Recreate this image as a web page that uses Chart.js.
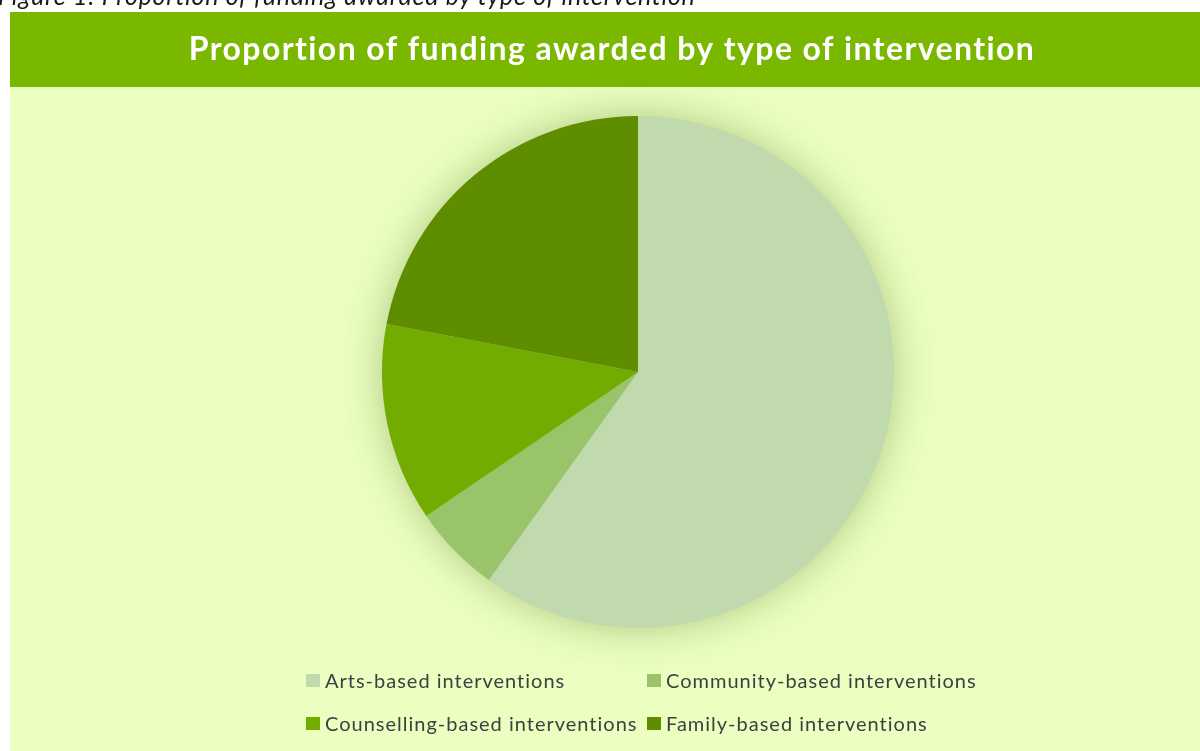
<!DOCTYPE html>
<html>
<head>
<meta charset="utf-8">
<script src="https://cdn.jsdelivr.net/npm/chart.js@4/dist/chart.umd.min.js"></script>
<style>
  html, body { margin: 0; padding: 0; background: #ffffff; overflow: hidden; }
  #wrap { position: relative; width: 1200px; height: 751px; }
  #chart { position: absolute; left: 0; top: 0; }
  #caption {
    position: absolute; left: -2px; top: -17px; white-space: nowrap;
    font-family: Lato, "Noto Sans", sans-serif; font-style: italic;
    font-size: 25px; line-height: 25px; letter-spacing: 0.7px; color: #1a1a1a;
  }
</style>
</head>
<body>
<div id="wrap">
  <canvas id="chart" width="1200" height="751"></canvas>
  <div id="caption">Figure 1: Proportion of funding awarded by type of intervention</div>
</div>
<script>
// Share of funding (%) by intervention type
const categories = [
  'Arts-based interventions',
  'Community-based interventions',
  'Counselling-based interventions',
  'Family-based interventions'
];
const shares = [59.9, 5.6, 12.5, 22.0];
const sliceColors = ['#C0D9AD', '#99C46A', '#72AC00', '#5E8E00'];
const chartTitle = 'Proportion of funding awarded by type of intervention';

const PANEL = { left: 10, top: 12 };
const BAND_H = 75;
const FONT = 'Lato, "Noto Sans", sans-serif';

// Panel background, title band and title text
const panelPlugin = {
  id: 'panel',
  beforeDraw(chart) {
    const { ctx, width, height } = chart;
    ctx.save();
    ctx.fillStyle = '#EAFFC0';
    ctx.fillRect(PANEL.left, PANEL.top, width - PANEL.left, height - PANEL.top);
    ctx.fillStyle = '#7AB800';
    ctx.fillRect(PANEL.left, PANEL.top, width - PANEL.left, BAND_H);
    ctx.fillStyle = '#ffffff';
    ctx.font = 'bold 32px ' + FONT;
    ctx.letterSpacing = '1.4px';
    ctx.textAlign = 'center';
    ctx.textBaseline = 'alphabetic';
    ctx.fillText(chartTitle, 612, 60);
    ctx.restore();
  }
};

// Soft glow behind the pie
const glowPlugin = {
  id: 'glow',
  beforeDatasetsDraw(chart) {
    const arc = chart.getDatasetMeta(0).data[0];
    if (!arc) return;
    const { ctx } = chart;
    ctx.save();
    ctx.shadowColor = 'rgba(95, 125, 50, 0.45)';
    ctx.shadowBlur = 40;
    ctx.fillStyle = sliceColors[0];
    ctx.beginPath();
    ctx.arc(arc.x, arc.y, arc.outerRadius - 1, 0, Math.PI * 2);
    ctx.fill();
    ctx.restore();
  }
};

// Two-column legend grid below the pie
const gridLegendPlugin = {
  id: 'gridLegend',
  afterDraw(chart) {
    const items = chart.options.plugins.legend.labels.generateLabels(chart);
    const { ctx } = chart;
    const cols = [306, 647];
    const rows = [688, 731];
    ctx.save();
    ctx.font = '20px ' + FONT;
    ctx.letterSpacing = '1px';
    ctx.textBaseline = 'alphabetic';
    ctx.textAlign = 'left';
    items.forEach((it, i) => {
      const x = cols[i % 2];
      const y = rows[Math.floor(i / 2)];
      ctx.fillStyle = it.fillStyle;
      ctx.fillRect(x, y - 14, 14, 13);
      ctx.fillStyle = '#404040';
      ctx.fillText(it.text, x + 19, y);
    });
    ctx.restore();
  }
};

new Chart(document.getElementById('chart'), {
  type: 'pie',
  data: {
    labels: categories,
    datasets: [{
      data: shares,
      backgroundColor: sliceColors,
      borderWidth: 0,
      hoverOffset: 0,
      radius: 256
    }]
  },
  options: {
    responsive: false,
    animation: false,
    events: [],
    layout: { padding: { left: 200, right: 124, top: 100, bottom: 107 } },
    plugins: {
      legend: { display: false },
      title: { display: false },
      tooltip: { enabled: false }
    }
  },
  plugins: [panelPlugin, glowPlugin, gridLegendPlugin]
});
</script>
</body>
</html>
